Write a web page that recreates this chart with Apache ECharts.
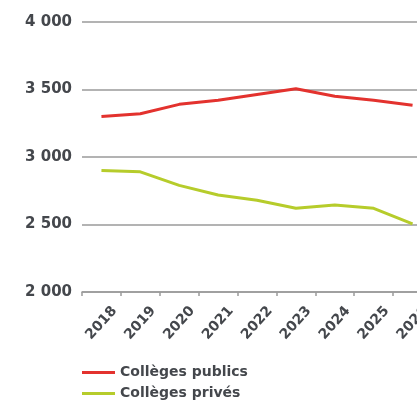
<!DOCTYPE html>
<html><head><meta charset="utf-8">
<script src="https://cdn.jsdelivr.net/npm/echarts@6/dist/echarts.min.js"></script>
<style>html,body{margin:0;padding:0;background:#fff}#c{width:417px;height:403px}</style>
</head><body><div id="c"></div>
<script>
const years = ['2018','2019','2020','2021','2022','2023','2024','2025','2026'];
const publics = [3300, 3320, 3390, 3420, 3463, 3505, 3450, 3420, 3384];
const prives = [2900, 2890, 2790, 2718, 2680, 2620, 2645, 2620, 2505];
const seriesNames = ['Collèges publics', 'Collèges privés'];
const yTicks = [2000, 2500, 3000, 3500, 4000];

const font = 'DejaVu Sans';
const chart = echarts.init(document.getElementById('c'), null, {renderer: 'canvas'});
chart.setOption({
  animation: false,
  grid: {left: 82, right: -15, top: 22, bottom: 111, containLabel: false, outerBoundsMode: 'none'},
  legend: {
    orient: 'vertical', left: 82, top: 362, itemGap: 0, padding: 0, height: 60,
    icon: 'rect', itemWidth: 33, itemHeight: 3,
    textStyle: {fontFamily: font, fontWeight: 'bold', fontSize: 14, color: '#44474c', lineHeight: 21},
    data: seriesNames
  },
  xAxis: {
    type: 'category', data: years, boundaryGap: true,
    axisLine: {show: true, onZero: false, lineStyle: {color: '#9a9a9a', width: 1.5}},
    axisTick: {show: true, alignWithLabel: false, length: 4, lineStyle: {color: '#9a9a9a', width: 1.5}},
    axisLabel: {rotate: 48, align: 'center', verticalAlign: 'middle', margin: 31,
      fontFamily: font, fontWeight: 'bold', fontSize: 14, color: '#44474c'}
  },
  yAxis: {
    type: 'value', min: yTicks[0], max: yTicks[yTicks.length-1], interval: 500,
    axisLine: {show: false}, axisTick: {show: false},
    splitLine: {lineStyle: {color: '#9a9a9a', width: 1.5}},
    axisLabel: {margin: 10, fontFamily: font, fontWeight: 'bold', fontSize: 15, color: '#44474c',
      formatter: v => { const s = String(v); return s.slice(0, s.length-3) + ' ' + s.slice(-3); }}
  },
  series: [
    {name: seriesNames[0], type: 'line', data: publics, symbol: 'none',
     lineStyle: {color: '#e3322e', width: 3}, itemStyle: {color: '#e3322e'}},
    {name: seriesNames[1], type: 'line', data: prives, symbol: 'none',
     lineStyle: {color: '#b6cc2b', width: 3}, itemStyle: {color: '#b6cc2b'}}
  ]
});
</script></body></html>
